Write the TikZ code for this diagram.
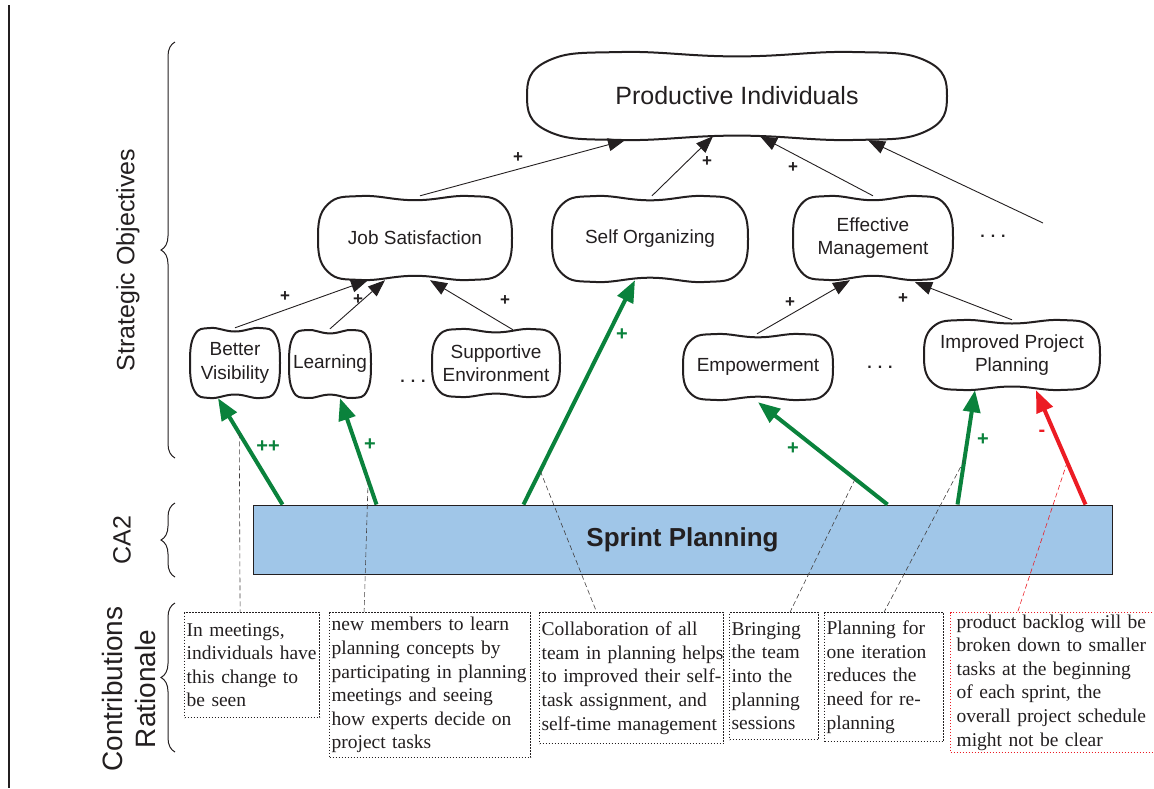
\documentclass[tikz,border=0pt]{standalone}
\usepackage{fontspec}
\setmainfont{Liberation Sans}
\newfontfamily\notefont{Liberation Serif}
\usetikzlibrary{calc,arrows.meta,decorations.pathreplacing}

\definecolor{contribgreen}{RGB}{10,130,60}
\definecolor{contribred}{RGB}{236,28,36}
\definecolor{sprintblue}{RGB}{160,198,232}
\definecolor{inkdark}{RGB}{35,31,32}

\tikzset{
  goal/.style={rectangle, inner sep=0pt, align=center, text=inkdark,
    font=\fontsize{19}{23.5}\selectfont},
  blobline/.style={line width=2pt, draw=inkdark, line join=round},
  link/.style={-{Triangle[length=17pt,width=13pt]}, line width=0.9pt, draw=inkdark},
  poscontrib/.style={-{Triangle[length=22pt,width=17pt]}, line width=4pt, draw=contribgreen},
  negcontrib/.style={-{Triangle[length=22pt,width=17pt]}, line width=4pt, draw=contribred},
  trace/.style={line width=0.6pt, draw=inkdark!85, dash pattern=on 5pt off 3pt},
  redtrace/.style={trace, draw=contribred},
  rationale/.style={draw=inkdark, line width=1.2pt, dash pattern=on 1.3pt off 1.7pt,
    anchor=north west, inner sep=2pt, align=left, text=inkdark,
    execute at begin node={\hyphenpenalty=10000\exhyphenpenalty=10000},
    font=\notefont\fontsize{19.5}{23.6}\selectfont},
  sign/.style={text=inkdark, font=\bfseries\fontsize{17}{17}\selectfont},
  greensign/.style={text=contribgreen, font=\bfseries\fontsize{20}{20}\selectfont},
  gap/.style={text=inkdark, font=\bfseries\fontsize{16}{16}\selectfont},
  section/.style={text=inkdark, font=\fontsize{25}{30}\selectfont},
  sectionbrace/.style={decorate, decoration={brace, amplitude=14pt}, line width=1pt, draw=inkdark},
}

% goal: name, centre x, centre y, half width, half height, text
\newcommand\goal[6]{%
  \node[goal, minimum width={2*#4}, minimum height={2*#5}] (#1) at (#2,#3) {#6};
  \draw[blobline] plot[smooth cycle, tension=0.75] coordinates {
    ({#2-#4},{#3})
    ({#2-0.9*#4},{#3-0.8*#5})
    ({#2-0.55*#4},{#3-#5})
    ({#2},{#3-0.9*#5})
    ({#2+0.55*#4},{#3-#5})
    ({#2+0.9*#4},{#3-0.8*#5})
    ({#2+#4},{#3})
    ({#2+0.9*#4},{#3+0.8*#5})
    ({#2+0.55*#4},{#3+#5})
    ({#2},{#3+0.9*#5})
    ({#2-0.55*#4},{#3+#5})
    ({#2-0.9*#4},{#3+0.8*#5})
  };%
}

\begin{document}
\begin{tikzpicture}[x=1pt,y=-1pt]
\useasboundingbox (0,0) rectangle (1154,788);

% margin rule
\draw[line width=2.4pt, draw=inkdark] (9,5) -- (9,788);

% row labels and braces
\node[section, rotate=90] (lblso) at (128,260) {Strategic Objectives};
\node[section, rotate=90, font=\fontsize{25}{30}\selectfont] (lblca) at (122,540) {CA2};
\node[section, rotate=90, align=center, font=\fontsize{28}{33}\selectfont] (lblcr) at (129,689) {Contributions\\Rationale};
\draw[sectionbrace] (175,458) -- (175,42);
\draw[sectionbrace] (175,577) -- (175,503);
\draw[sectionbrace] (175,752) -- (175,603);

% strategic objectives
\goal{pi}{737}{96}{210}{44}{\fontsize{25}{30}\selectfont Productive Individuals}
\goal{js}{415}{238}{97}{42}{Job Satisfaction}
\goal{so}{650}{239}{98}{43}{Self Organizing}
\goal{em}{873}{238}{80}{42}{Effective\\Management}
\goal{bv}{235}{363}{45}{35}{Better\\Visibility}
\goal{lrn}{330}{364}{41}{34}{Learning}
\goal{se}{496}{363}{64}{34}{Supportive\\Environment}
\goal{emp}{758}{367}{75}{33}{Empowerment}
\goal{ipp}{1012}{355}{88}{35}{Improved Project\\Planning}

\node[gap] (gap1) at (413,381) {. . .};
\node[gap] (gap2) at (880,367) {. . .};
\node[gap] (gap3) at (993,236) {. . .};
\coordinate (moregoal) at (1043,223);

% contribution links between objectives
\draw[link] ($(js.north)+(5,0)$) -- ($(pi.south)+(-112,0)$);
\draw[link] ($(so.north)+(2,0)$) -- ($(pi.south)+(-24,-4)$);
\draw[link] ($(em.north)+(0,0)$) -- ($(pi.south)+(23,-4)$);
\draw[link] (moregoal) -- ($(pi.south)+(131,0)$);
\draw[link] (bv.north) -- ($(js.south)+(-47,0)$);
\draw[link] ($(lrn.north)+(0,-1)$) -- ($(js.south)+(-30,0)$);
\draw[link] ($(se.north)+(17,1)$) -- ($(js.south)+(15,0)$);
\draw[link] ($(emp.north)+(-1,0)$) -- ($(em.south)+(-23,0)$);
\draw[link] (ipp.north) -- ($(em.south)+(42,2)$);

\node[sign] (p1) at (518,158) {+};
\node[sign] (p2) at (707,162) {+};
\node[sign] (p3) at (793,168) {+};
\node[sign] (p4) at (285,297) {+};
\node[sign] (p5) at (358,300) {+};
\node[sign] (p6) at (505,301) {+};
\node[sign] (p7) at (790,303) {+};
\node[sign] (p8) at (903,299) {+};

% the practice
\node[draw=inkdark, line width=1pt, fill=sprintblue, minimum width=859pt, minimum height=69pt,
  text=inkdark, font=\bfseries\fontsize{26}{30}\selectfont] (sp) at (682.5,539.5) {Sprint Planning};

% contributions of the practice
\draw[poscontrib] ($(sp.north west)+(30,0)$) coordinate (g1s) -- ($(bv.south)+(-17,0)$) coordinate (g1e);
\draw[poscontrib] ($(sp.north west)+(124,0)$) coordinate (g2s) -- ($(lrn.south)+(10,0)$) coordinate (g2e);
\draw[poscontrib] ($(sp.north west)+(271,0)$) coordinate (g3s) -- ($(so.south)+(-15,-2)$) coordinate (g3e);
\draw[poscontrib] ($(sp.north west)+(635,0)$) coordinate (g4s) -- ($(emp.south)+(0,2)$) coordinate (g4e);
\draw[poscontrib] ($(sp.north west)+(705,0)$) coordinate (g5s) -- ($(ipp.south)+(-37,0)$) coordinate (g5e);
\draw[negcontrib] ($(sp.north west)+(833,0)$) coordinate (r6s) -- ($(ipp.south)+(24,0)$) coordinate (r6e);

\node[greensign] (c1) at (268,447) {++};
\node[greensign] (c2) at (370,445) {+};
\node[greensign] (c3) at (622,335) {+};
\node[greensign] (c4) at (793,449) {+};
\node[greensign] (c5) at (983,440) {+};
\node[greensign, text=contribred] (c6) at (1042,433) {-};

% rationale notes
\node[rationale, minimum width=135pt, minimum height=105pt, text width=131pt] (r1) at (184,612)
  {In~meetings,\\individuals~have\\this~change~to\\be~seen};
\node[rationale, minimum width=201pt, minimum height=145pt, text width=197pt] (r2) at (329,612)
  {new~members~to~learn\\planning~concepts~by\\participating~in~planning\\meetings~and~seeing\\how~experts~decide~on\\project~tasks};
\node[rationale, minimum width=184pt, minimum height=131pt, text width=180pt] (r3) at (539,612)
  {Collaboration~of~all\\team~in~planning~helps\\to~improved~their~self-\\task~assignment,~and\\self-time~management};
\node[rationale, minimum width=89pt, minimum height=127pt, text width=85pt] (r4) at (729,612)
  {Bringing\\the~team\\into~the\\planning\\sessions};
\node[rationale, minimum width=119pt, minimum height=129pt, text width=115pt] (r5) at (824,612)
  {Planning~for\\one~iteration\\reduces~the\\need~for~re-\\planning};
\node[rationale, draw=contribred, minimum width=212pt, minimum height=138pt, text width=208pt, inner xsep=6pt] (r6) at (950,612)
  {product~backlog~will~be\\broken~down~to~smaller\\tasks~at~the~beginning\\of~each~sprint,~the\\overall~project~schedule\\might~not~be~clear};

% traces from contributions to their rationale
\draw[trace] ($(g1s)!0.67!(g1e)$) -- ($(r1.north)+(-12,0)$);
\draw[trace] ($(g2s)!0.23!(g2e)$) -- ($(r2.north)+(-66,0)$);
\draw[trace] ($(g3s)!0.15!(g3e)$) -- ($(r3.north)+(-35,0)$);
\draw[trace] ($(g4s)!0.25!(g4e)$) -- ($(r4.north)+(16,0)$);
\draw[trace] ($(g5s)!0.39!(g5e)$) -- ($(r5.north)+(0,0)$);
\draw[redtrace] ($(r6s)!0.37!(r6e)$) -- ($(r6.north)+(-43,0)$);

\end{tikzpicture}
\end{document}
